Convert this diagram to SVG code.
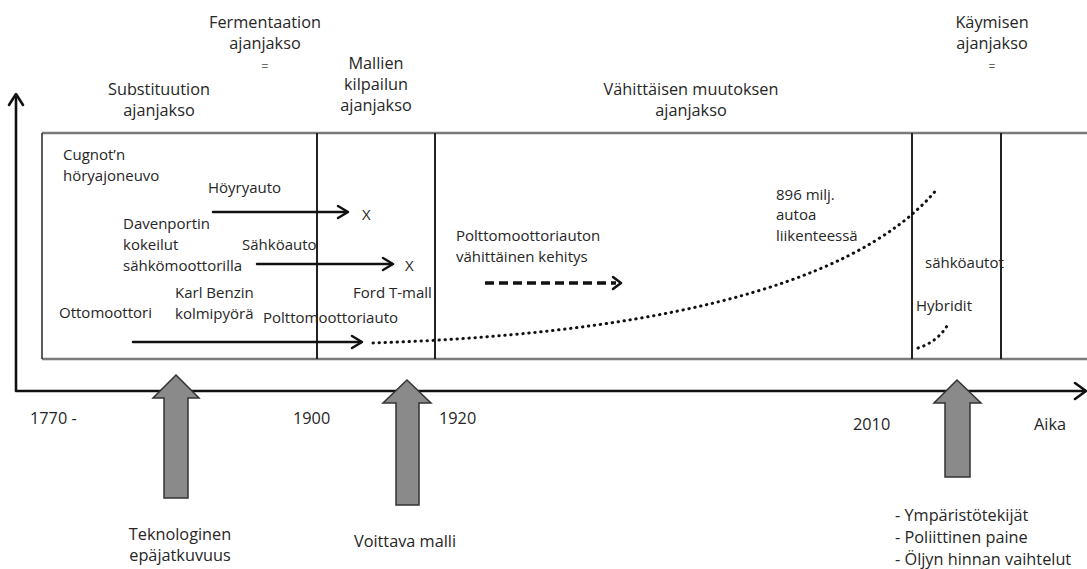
<svg xmlns="http://www.w3.org/2000/svg" width="1087" height="569" viewBox="0 0 1087 569">
  <style>
    text { font-family: "Open Sans", "Liberation Sans", sans-serif; fill: #262626; }
    .lbl { font-size: 16.3px; text-anchor: middle; }
    .yr { font-size: 16.3px; }
    .in { font-size: 15px; }
    .eq { font-size: 12px; text-anchor: middle; fill: #666; }
    .axis { fill: none; stroke: #111; stroke-width: 2.6; stroke-linejoin: round; stroke-linecap: round; }
    .frame-h { stroke: #7a7a7a; stroke-width: 2.4; }
    .frame-v { stroke: #222; stroke-width: 2; }
    .arrow { fill: none; stroke: #111; stroke-width: 2.5; stroke-linecap: round; stroke-linejoin: round; }
    .dash { fill: none; stroke: #111; stroke-width: 3.5; stroke-dasharray: 9 5; }
    .dots { fill: none; stroke: #111; stroke-width: 3; stroke-linecap: round; stroke-dasharray: 0.4 5.6; }
    .block { fill: #8a8a8a; stroke: #333; stroke-width: 1.5; stroke-linejoin: miter; }
  </style>

  <!-- axes -->
  <g id="axes">
    <path class="axis" d="M16,97 L16,391 L1085,391"/>
    <path class="axis" d="M9,105 L16,94 L23,105"/>
    <path class="axis" d="M1075,383 L1086,391 L1075,399"/>
  </g>

  <!-- period frame -->
  <g id="frame">
    <line class="frame-h" x1="42" y1="133" x2="1087" y2="133"/>
    <line class="frame-h" x1="42" y1="359" x2="1087" y2="359"/>
    <line x1="42" y1="133" x2="42" y2="359" stroke="#333" stroke-width="1.6"/>
    <line class="frame-v" x1="317" y1="133" x2="317" y2="359"/>
    <line class="frame-v" x1="435" y1="133" x2="435" y2="359"/>
    <line class="frame-v" x1="912" y1="133" x2="912" y2="359"/>
    <line class="frame-v" x1="1001" y1="133" x2="1001" y2="359"/>
  </g>

  <!-- period headings -->
  <g id="period-substitution">
    <text class="lbl" x="159" y="95">Substituution</text>
    <text class="lbl" x="159" y="116">ajanjakso</text>
  </g>
  <g id="period-fermentation">
    <text class="lbl" x="265" y="28">Fermentaation</text>
    <text class="lbl" x="265" y="49">ajanjakso</text>
    <text class="eq" x="265" y="71">=</text>
  </g>
  <g id="period-models">
    <text class="lbl" x="376" y="69">Mallien</text>
    <text class="lbl" x="376" y="90">kilpailun</text>
    <text class="lbl" x="376" y="111">ajanjakso</text>
  </g>
  <g id="period-gradual">
    <text class="lbl" x="691" y="95">Vähittäisen muutoksen</text>
    <text class="lbl" x="691" y="116">ajanjakso</text>
  </g>
  <g id="period-ferment2">
    <text class="lbl" x="992" y="28">Käymisen</text>
    <text class="lbl" x="992" y="49">ajanjakso</text>
    <text class="eq" x="992" y="71">=</text>
  </g>

  <!-- events inside the frame -->
  <g id="cugnot">
    <text class="in" x="63" y="160">Cugnot’n</text>
    <text class="in" x="63" y="181">höryajoneuvo</text>
  </g>
  <g id="steam-car">
    <text class="in" x="208" y="193">Höyryauto</text>
    <text class="in" x="362" y="220">X</text>
  </g>
  <g id="davenport">
    <text class="in" x="123" y="229">Davenportin</text>
    <text class="in" x="123" y="250">kokeilut</text>
    <text class="in" x="123" y="271">sähkömoottorilla</text>
  </g>
  <g id="electric-car">
    <text class="in" x="242" y="250">Sähköauto</text>
    <text class="in" x="405" y="271">X</text>
  </g>
  <g id="ford">
    <text class="in" x="353" y="298">Ford T-mall</text>
  </g>
  <g id="benz">
    <text class="in" x="175" y="298">Karl Benzin</text>
    <text class="in" x="175" y="319">kolmipyörä</text>
  </g>
  <g id="otto">
    <text class="in" x="59" y="318">Ottomoottori</text>
  </g>
  <g id="ice-car">
    <text class="in" x="263" y="323">Polttomoottoriauto</text>
  </g>
  <g id="ice-development">
    <text class="in" x="456" y="241">Polttomoottoriauton</text>
    <text class="in" x="456" y="262">vähittäinen kehitys</text>
  </g>
  <g id="cars-in-use">
    <text class="in" x="776" y="200">896 milj.</text>
    <text class="in" x="776" y="220">autoa</text>
    <text class="in" x="776" y="241">liikenteessä</text>
  </g>
  <g id="ev">
    <text class="in" x="925" y="268">sähköautot</text>
  </g>
  <g id="hybrid">
    <text class="in" x="916" y="311">Hybridit</text>
  </g>

  <!-- connectors -->
  <g id="connectors">
    <line class="arrow" x1="213" y1="212" x2="347" y2="212"/>
    <path class="arrow" d="M338,206 L348,212 L338,218"/>
    <line class="arrow" x1="257" y1="264" x2="392" y2="264"/>
    <path class="arrow" d="M383,258 L393,264 L383,270"/>
    <line class="arrow" x1="133" y1="342" x2="361" y2="342"/>
    <path class="arrow" d="M352,336 L362,342 L352,348"/>
    <line class="dash" x1="485" y1="283" x2="616" y2="283"/>
    <path class="arrow" d="M613,277 L621,283 L613,289" stroke-width="3.2"/>
    <path class="dots" d="M373,343 C620,335 850,295 938,188"/>
    <path class="dots" d="M918,348 Q937,342 947,326"/>
  </g>

  <!-- axis labels -->
  <g id="years">
    <text class="yr" x="30" y="424">1770 -</text>
    <text class="yr" x="293" y="424">1900</text>
    <text class="yr" x="439" y="424">1920</text>
    <text class="yr" x="853" y="430">2010</text>
    <text class="yr" x="1034" y="430">Aika</text>
  </g>

  <!-- drivers -->
  <g id="driver-technology">
    <polygon class="block" points="176,375 199,398 188,398 188,498 164,498 164,398 153,398"/>
    <text class="lbl" x="180" y="540">Teknologinen</text>
    <text class="lbl" x="180" y="561">epäjatkuvuus</text>
  </g>
  <g id="driver-model">
    <polygon class="block" points="407,380 431,403 419,403 419,505 396,505 396,403 383,403"/>
    <text class="lbl" x="405" y="547">Voittava malli</text>
  </g>
  <g id="driver-environment">
    <polygon class="block" points="957,380 981,403 970,403 970,477 945,477 945,403 934,403"/>
    <text class="yr" x="895" y="521">- Ympäristötekijät</text>
    <text class="yr" x="895" y="543">- Poliittinen paine</text>
    <text class="yr" x="895" y="565">- Öljyn hinnan vaihtelut</text>
  </g>
</svg>
